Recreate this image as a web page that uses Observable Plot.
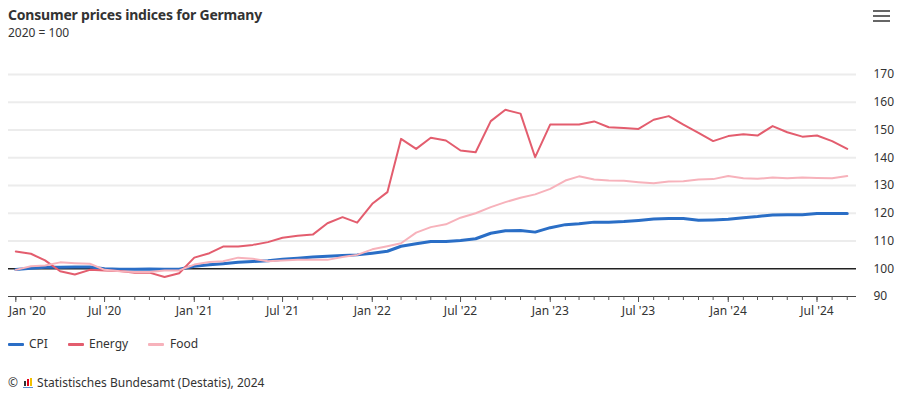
<!DOCTYPE html>
<html><head><meta charset="utf-8">
<script src="https://cdn.jsdelivr.net/npm/d3@7"></script>
<script src="https://cdn.jsdelivr.net/npm/@observablehq/plot@0.6"></script>
<style>
body{margin:0;background:#fff;width:906px;height:397px;overflow:hidden;position:relative;font-family:"Noto Sans",sans-serif;color:#333}
#title{position:absolute;left:8px;top:5px;font-size:14px;font-weight:bold;color:#333;letter-spacing:-0.2px}
#sub{position:absolute;left:8px;top:24px;font-size:12px;color:#333}
#menu{position:absolute;left:873px;top:10px;width:17px}
#menu span{display:block;height:2.4px;background:#666;margin-bottom:2.6px}
#chart{position:absolute;left:0;top:45px}
#legend{position:absolute;left:0;top:335px;font-size:12px;color:#333}
.li{position:absolute;white-space:nowrap;line-height:18px}
.sw{position:absolute;top:8px;width:16px;height:3px;border-radius:1px}
#caption{position:absolute;left:8px;top:374px;font-size:12px;color:#333;white-space:nowrap}
.logo{display:inline-block;position:relative;width:11px;height:10px;vertical-align:-1px;margin:0 3px 0 2px}
.logo i{position:absolute;bottom:2px;width:2px}
</style></head><body>
<div id="title">Consumer prices indices for Germany</div>
<div id="sub">2020 = 100</div>
<div id="menu"><span></span><span></span><span></span></div>
<div id="chart"></div>
<div id="legend"></div>
<div id="caption">© <span class="logo"><i style="left:1px;height:5px;background:#333"></i><i style="left:4px;height:7px;background:#e2001a"></i><i style="left:7px;height:8px;background:#f0c000"></i><i style="left:0;bottom:0;width:10px;height:1.5px;background:#5b8fd0"></i></span>Statistisches Bundesamt (Destatis), 2024</div>
<script>
const seriesNames = ["CPI", "Energy", "Food"];
const seriesColors = ["#2a6ec6", "#e35d6e", "#f7b2bb"];
const seriesWidths = [3, 2, 2];
const months = d3.utcMonth.range(new Date(Date.UTC(2020,0,1)), new Date(Date.UTC(2024,9,1)));
const cpi = [99.7,100.2,100.5,100.5,100.6,100.6,100.0,99.8,99.8,99.9,99.8,99.8,
  100.9,101.4,101.8,102.3,102.6,102.9,103.4,103.8,104.2,104.5,104.8,105.0,
  105.6,106.3,108.1,109.0,109.8,109.8,110.2,110.8,112.8,113.7,113.8,113.2,
  114.8,115.9,116.2,116.8,116.8,117.0,117.4,117.9,118.1,118.1,117.5,117.6,
  117.8,118.4,118.8,119.4,119.5,119.5,119.9,119.9,119.9];
const energy = [106.2,105.4,103.0,99.1,97.9,99.6,99.4,99.2,98.6,98.6,97.0,98.4,
  104.0,105.6,108.0,108.0,108.6,109.6,111.2,111.9,112.3,116.4,118.6,116.6,
  123.4,127.6,146.8,143.2,147.2,146.2,142.6,142.0,153.2,157.3,155.9,140.2,
  152.0,152.0,152.0,153.1,151.0,150.7,150.4,153.7,155.0,151.9,149.0,146.0,
  147.8,148.5,148.0,151.4,149.2,147.6,148.0,146.0,143.2];
const food = [99.6,100.9,101.2,102.3,102.0,101.8,99.6,99.1,98.8,98.8,99.4,99.4,
  101.5,102.4,102.7,104.0,103.6,102.7,103.0,103.2,103.2,103.2,104.2,105.0,
  107.0,108.1,109.2,113.0,115.0,116.0,118.4,120.0,122.2,124.0,125.6,126.8,
  128.8,131.8,133.3,132.2,131.8,131.7,131.2,130.8,131.4,131.5,132.2,132.3,
  133.4,132.6,132.4,132.9,132.6,132.9,132.7,132.6,133.4];
const yTicks = [90,100,110,120,130,140,150,160,170];
const gridTicks = [110,120,130,140,150,160,170];
const majorLabels = ["Jan '20","Jul '20","Jan '21","Jul '21","Jan '22","Jul '22","Jan '23","Jul '23","Jan '24","Jul '24"];
const majorTicks = months.filter(d => d.getUTCMonth() % 6 === 0);
const labelOf = d => majorLabels[majorTicks.findIndex(m => +m === +d)];

const values = [cpi, energy, food];
const rows = [];
seriesNames.forEach((s, k) => months.forEach((d, i) => rows.push({date: d, value: values[k][i], series: s})));

const lineMarks = seriesNames.map((s, k) =>
  Plot.line(rows.filter(r => r.series === s), {x: "date", y: "value", stroke: seriesColors[k], strokeWidth: seriesWidths[k], strokeLinejoin: "round", strokeLinecap: "round"}));

const chart = Plot.plot({
  width: 906, height: 281,
  marginLeft: 8, marginRight: 50, marginTop: 29, marginBottom: 30,
  style: {fontFamily: '"Noto Sans", sans-serif', fontSize: "12px", color: "#333", background: "transparent", overflow: "visible"},
  x: {type: "utc", domain: [new Date(Date.UTC(2019,11,17)), new Date(Date.UTC(2024,8,20))]},
  y: {domain: [90, 170]},
  marks: [
    Plot.ruleY(gridTicks, {stroke: "#ececec", strokeWidth: 2}),
    Plot.ruleY([100], {stroke: "#222", strokeWidth: 1.3}),
    Plot.ruleY([90], {stroke: "#444", strokeWidth: 1}),
    Plot.axisY(yTicks, {anchor: "right", tickSize: 0, tickPadding: 17, label: null, fill: "#333"}),
    Plot.axisX(months, {tickSize: 4, stroke: "#555", tickFormat: () => "", label: null}),
    Plot.axisX(majorTicks, {tickSize: 6, tickPadding: 4, stroke: "#555", tickFormat: () => "", label: null}),
    Plot.axisX(majorTicks.slice(1), {tickSize: 0, tickPadding: 10, fill: "#333", label: null, tickFormat: labelOf}),
    Plot.axisX(majorTicks.slice(0, 1), {tickSize: 0, tickPadding: 10, fill: "#333", label: null, tickFormat: labelOf, textAnchor: "start", dx: -7}),
    ...lineMarks
  ]
});
document.getElementById("chart").appendChild(chart);

const legendX = [8, 68, 148];
const leg = document.getElementById("legend");
seriesNames.forEach((s, k) => {
  const el = document.createElement("div");
  el.className = "li";
  el.style.left = legendX[k] + "px";
  el.innerHTML = `<span class="sw" style="left:0;background:${seriesColors[k]}"></span><span style="margin-left:${k===2?22:21}px">${s}</span>`;
  leg.appendChild(el);
});
</script>
</body></html>
